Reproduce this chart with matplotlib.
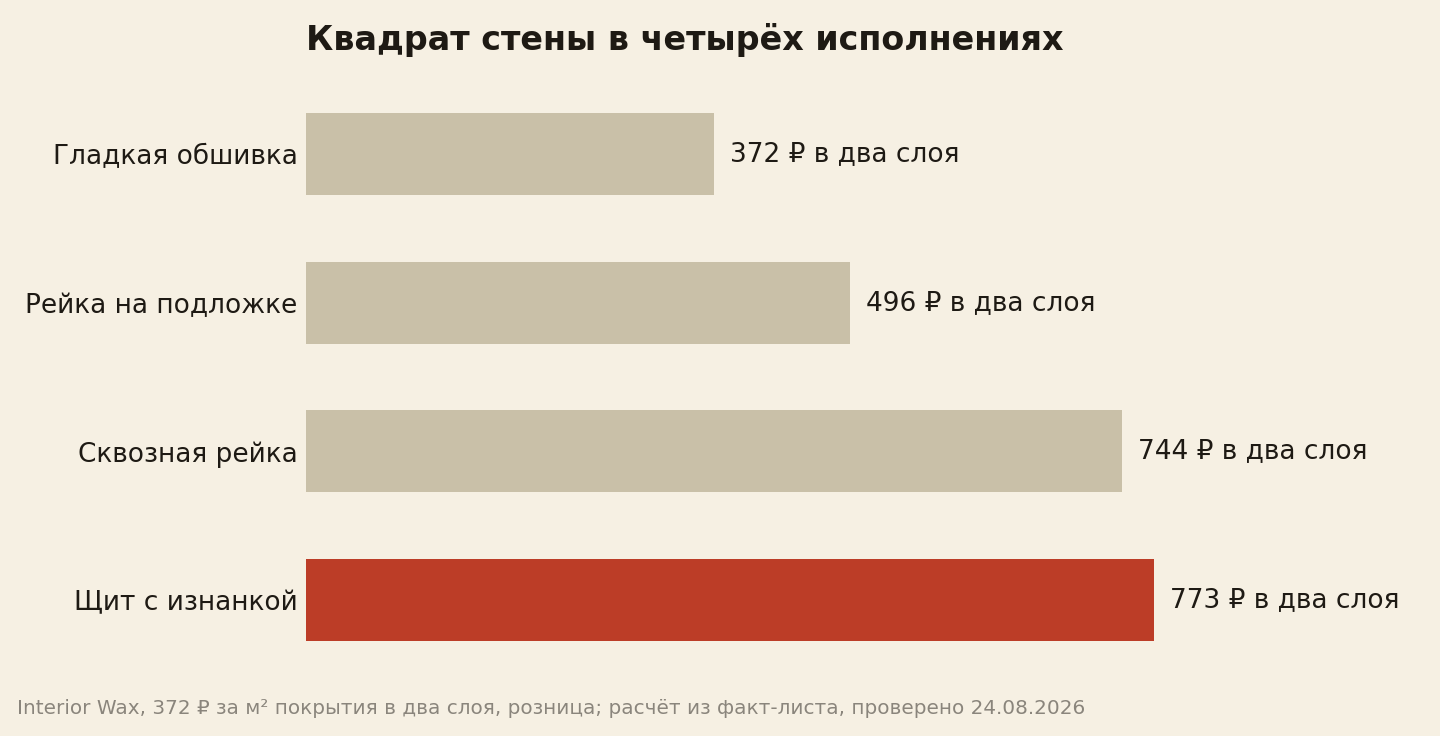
import matplotlib
matplotlib.use('Agg')
import matplotlib.pyplot as plt

# данные
categories = ['Гладкая обшивка', 'Рейка на подложке', 'Сквозная рейка', 'Щит с изнанкой']
prices = [372, 496, 744, 773]
highlight = 'Щит с изнанкой'

bg = '#f6f0e3'
tan = '#c9c0a8'
red = '#bc3d27'
dark = '#1e1a14'
grey = '#8a857c'

plt.rcParams['font.family'] = ['DejaVu Sans']

fig = plt.figure(figsize=(14.4, 7.36), dpi=100, facecolor=bg)
ax = fig.add_axes([306 / 1440, 1 - 674.5 / 736, 1096.8 / 1440, 595 / 736])
ax.set_facecolor(bg)

y = list(range(len(categories)))
colors = [red if c == highlight else tan for c in categories]
ax.barh(y, prices, height=0.55, color=colors)
ax.set_ylim(len(categories) - 0.5, -0.5)
ax.set_xlim(0, 1000)

for yi, p in zip(y, prices):
    ax.text(p + 15, yi, f'{p} ₽ в два слоя', va='center', ha='left',
            fontsize=19, color=dark)

ax.set_yticks(y)
ax.set_yticklabels(categories, fontsize=19, color=dark)
ax.tick_params(axis='y', length=0, pad=6)
ax.set_xticks([])
for s in ax.spines.values():
    s.set_visible(False)

fig.text(306 / 1440, 1 - 40 / 736, 'Квадрат стены в четырёх исполнениях',
         fontsize=24, fontweight='bold', color=dark, ha='left', va='center')
fig.text(17 / 1440, 1 - 708 / 736,
         'Interior Wax, 372 ₽ за м² покрытия в два слоя, розница; расчёт из факт-листа, проверено 24.08.2026',
         fontsize=14.4, color=grey, ha='left', va='center')

fig.savefig('out.png', dpi=100, facecolor=bg)
